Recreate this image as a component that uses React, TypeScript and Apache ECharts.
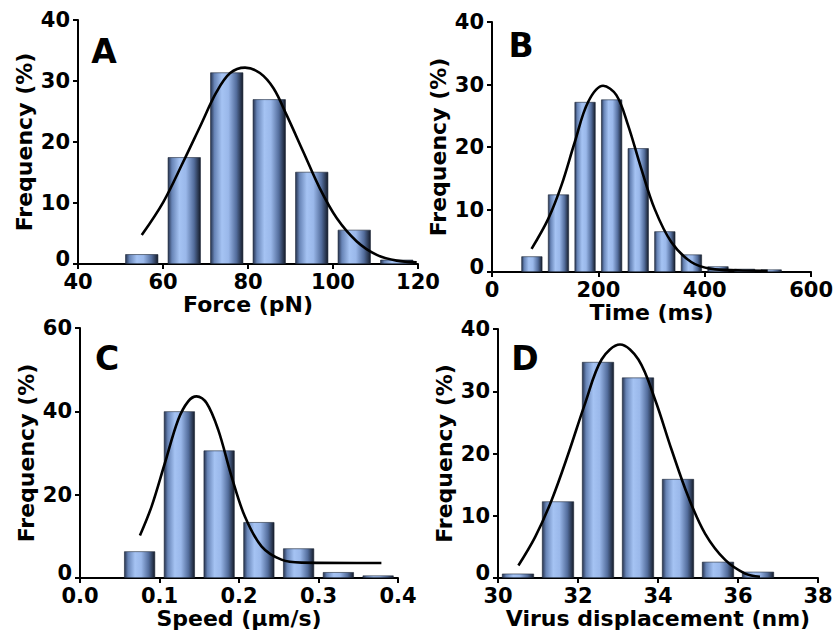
import React, { useEffect, useRef } from "react";
import * as echarts from "echarts";

// Panel A: rupture force histogram (pN)
const forceBins = [55, 65, 75, 85, 95, 105, 115];
const forceFreq = [1.6, 17.5, 31.4, 27.0, 15.1, 5.6, 0.7];
const forceFitX = [55, 60.1, 64.8, 68.7, 72.6, 75.8, 79.3, 82.8, 86.0, 89.1, 93.0, 96.9, 100.9, 105.6, 110.3, 115, 119.7];
const forceFitY = [4.75, 10.2, 16.8, 22.5, 28.2, 31.3, 32.2, 31.3, 28.8, 24.4, 18.4, 12.4, 7.5, 3.7, 1.5, 0.55, 0.27];

// Panel B: dwell time histogram (ms)
const timeBins = [75, 125, 175, 225, 275, 325, 375, 425, 475, 525];
const timeFreq = [2.5, 12.4, 27.2, 27.6, 19.8, 6.5, 2.8, 0.9, 0.5, 0.4];
const timeFitX = [74.4, 105.7, 130.7, 155.7, 180.7, 208.9, 233.9, 255.8, 280.8, 305.8, 337.1, 374.6, 412.2, 462, 518.4];
const timeFitY = [3.7, 8.5, 13.9, 20.8, 27.2, 29.8, 28.3, 23.5, 16.5, 10.1, 4.8, 1.6, 0.5, 0.27, 0.2];

// Panel C: speed histogram (µm/s)
const speedBins = [0.075, 0.125, 0.175, 0.225, 0.275, 0.325, 0.375];
const speedFreq = [6.4, 40.0, 30.6, 13.4, 7.1, 1.4, 0.6];
const speedFitX = [0.0754, 0.0901, 0.1068, 0.1235, 0.1361, 0.1466, 0.1592, 0.1738, 0.1906, 0.2073, 0.2283, 0.2534, 0.2786, 0.3791];
const speedFitY = [10.2, 17.2, 27.6, 38.0, 42.4, 43.6, 42.0, 35.6, 24.4, 14.8, 7.6, 4.4, 3.7, 3.6];

// Panel D: virus displacement histogram (nm)
const dispBins = [30.5, 31.5, 32.5, 33.5, 34.5, 35.5, 36.5];
const dispFreq = [0.7, 12.3, 34.7, 32.2, 15.9, 2.6, 1.0];
const dispFitX = [30.51, 30.93, 31.34, 31.76, 32.18, 32.59, 33.05, 33.51, 33.93, 34.34, 34.76, 35.18, 35.68, 36.18, 36.55];
const dispFitY = [2.0, 6.6, 12.5, 20.0, 28.1, 35.1, 37.5, 35.1, 28.6, 20.6, 13.0, 7.1, 2.9, 0.7, 0.2];

const panelLetters = ["A", "B", "C", "D"];
const xNames = ["Force (pN)", "Time (ms)", "Speed (µm/s)", "Virus displacement (nm)"];
const yName = "Frequency (%)";

const FONT = "DejaVu Sans";

const barFill = () =>
  new echarts.graphic.LinearGradient(0, 0, 1, 0, [
    { offset: 0, color: "#26334f" },
    { offset: 0.12, color: "#6784b6" },
    { offset: 0.35, color: "#a5c3f3" },
    { offset: 0.55, color: "#9ab8ea" },
    { offset: 0.8, color: "#536d9c" },
    { offset: 1, color: "#151c2a" },
  ]);

export default function App() {
  const ref = useRef<HTMLDivElement>(null);

  useEffect(() => {
    if (!ref.current) return;
    const chart = echarts.init(ref.current, null, { renderer: "svg" });

    const grids = [
      { left: 78, top: 20, width: 340, height: 244 },
      { left: 492, top: 22, width: 320, height: 250 },
      { left: 80, top: 328, width: 318, height: 250 },
      { left: 498, top: 329, width: 320, height: 249 },
    ];
    const xRanges = [
      { min: 40, max: 120, interval: 20 },
      { min: 0, max: 600, interval: 200 },
      { min: 0, max: 0.4, interval: 0.1 },
      { min: 30, max: 38, interval: 2 },
    ];
    const yRanges = [
      { min: 0, max: 40, interval: 10 },
      { min: 0, max: 40, interval: 10 },
      { min: 0, max: 60, interval: 20 },
      { min: 0, max: 40, interval: 10 },
    ];
    const barWidths = [33, 21, 31, 32];
    const bins = [forceBins, timeBins, speedBins, dispBins];
    const freqs = [forceFreq, timeFreq, speedFreq, dispFreq];
    const fitXs = [forceFitX, timeFitX, speedFitX, dispFitX];
    const fitYs = [forceFitY, timeFitY, speedFitY, dispFitY];
    const letterPos = [
      [104, 51],
      [521, 45],
      [107, 358],
      [525, 358],
    ];

    const axisLine = { show: true, lineStyle: { color: "#000", width: 2 } };
    const axisTick = { show: true, length: 5, lineStyle: { color: "#000", width: 2 } };
    const labelFont = {
      color: "#000",
      fontFamily: FONT,
      fontWeight: "bold" as const,
      fontSize: 21,
    };
    const labelStyle = { ...labelFont, lineHeight: 16 };
    const nameStyle = { color: "#000", fontFamily: FONT, fontWeight: "bold" as const, fontSize: 22 };

    const xAxis = grids.map((_, i) => ({
      type: "value",
      gridIndex: i,
      ...xRanges[i],
      name: xNames[i],
      nameLocation: "middle",
      nameGap: 31,
      nameTextStyle: { ...nameStyle, lineHeight: 18 },
      axisLine: { ...axisLine, onZero: false },
      axisTick,
      splitLine: { show: false },
      axisLabel: {
        ...labelStyle,
        margin: 10,
        formatter: (v: number) => (i === 2 ? v.toFixed(1) : String(v)),
      },
    }));

    // the zero label sits a little higher so it clears the x-axis labels
    const yAxis = grids.map((_, i) => ({
      type: "value",
      gridIndex: i,
      ...yRanges[i],
      name: yName,
      nameLocation: "middle",
      nameGap: 43,
      nameTextStyle: nameStyle,
      axisLine,
      axisTick,
      splitLine: { show: false },
      axisLabel: {
        ...labelStyle,
        margin: 8,
        formatter: (v: number) => (v === 0 ? "{lo|0}" : String(v)),
        rich: { lo: { ...labelFont, lineHeight: 16, padding: [0, 0, 10, 0] } },
      },
    }));

    const series: any[] = [];
    grids.forEach((_, i) => {
      series.push({
        type: "bar",
        xAxisIndex: i,
        yAxisIndex: i,
        barWidth: barWidths[i],
        data: bins[i].map((b, k) => [b, freqs[i][k]]),
        itemStyle: { color: barFill(), borderColor: "#1d2638", borderWidth: 0.6 },
        z: 2,
      });
      series.push({
        type: "line",
        xAxisIndex: i,
        yAxisIndex: i,
        smooth: 0.35,
        symbol: "none",
        data: fitXs[i].map((x, k) => [x, fitYs[i][k]]),
        lineStyle: { color: "#000", width: 2.6 },
        z: 3,
      });
    });

    chart.setOption({
      animation: false,
      backgroundColor: "#fff",
      grid: grids,
      xAxis,
      yAxis,
      series,
      graphic: panelLetters.map((t, i) => ({
        type: "text",
        x: letterPos[i][0],
        y: letterPos[i][1],
        style: {
          text: t,
          fill: "#000",
          font: `bold 33px "${FONT}"`,
          align: "center",
          verticalAlign: "middle",
        },
        z: 10,
      })),
    });

    return () => chart.dispose();
  }, []);

  return (
    <div
      ref={ref}
      style={{ position: "absolute", left: 0, top: 0, width: 836, height: 640, background: "#fff" }}
    />
  );
}
